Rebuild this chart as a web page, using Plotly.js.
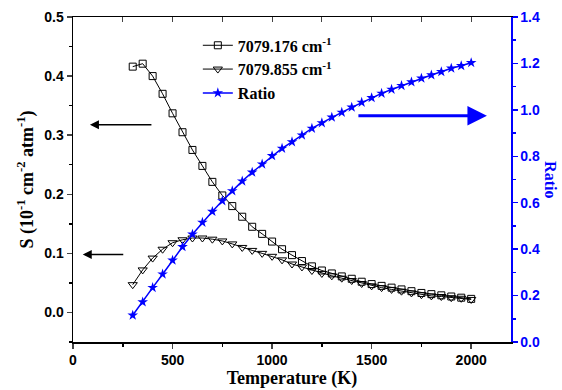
<!DOCTYPE html>
<html><head><meta charset="utf-8">
<script src="https://cdn.plot.ly/plotly-3.0.1.min.js"></script>
<style>html,body{margin:0;padding:0;background:#fff}#chart{width:562px;height:390px}</style>
</head><body><div id="chart"></div>
<script>
const temperature = [300,350,400,450,500,550,600,650,700,750,800,850,900,950,1000,1050,1100,1150,1200,1250,1300,1350,1400,1450,1500,1550,1600,1650,1700,1750,1800,1850,1900,1950,2000];
const s7079_176 = [0.416,0.421,0.400,0.370,0.337,0.305,0.275,0.248,0.221,0.198,0.180,0.162,0.145,0.133,0.120,0.107,0.097,0.087,0.078,0.071,0.066,0.061,0.057,0.052,0.048,0.045,0.042,0.039,0.036,0.033,0.031,0.029,0.027,0.025,0.023];
const s7079_855 = [0.047,0.072,0.092,0.107,0.118,0.123,0.126,0.126,0.124,0.121,0.116,0.110,0.105,0.100,0.095,0.089,0.082,0.077,0.071,0.066,0.062,0.058,0.054,0.049,0.045,0.042,0.039,0.036,0.033,0.030,0.028,0.027,0.025,0.024,0.022];
const ratio = [0.115,0.172,0.234,0.292,0.352,0.410,0.464,0.515,0.562,0.608,0.651,0.693,0.731,0.766,0.802,0.834,0.862,0.891,0.920,0.944,0.968,0.989,1.011,1.032,1.052,1.071,1.088,1.104,1.120,1.136,1.150,1.164,1.179,1.190,1.203];
const names = ['7079.176 cm<sup>-1</sup>','7079.855 cm<sup>-1</sup>','Ratio'];

const blue = '#0000ff';
const serif = 'Liberation Serif, Times New Roman, serif';
const sans = 'Liberation Sans, Arial, sans-serif';

const traces = [
  {x: temperature, y: s7079_176, name: names[0], mode:'lines+markers', type:'scatter',
   line:{color:'#000', width:1}, marker:{symbol:'square-open', size:7, color:'#000', line:{width:1}}},
  {x: temperature, y: s7079_855, name: names[1], mode:'lines+markers', type:'scatter',
   line:{color:'#000', width:1}, marker:{symbol:'triangle-down-open', size:8, color:'#000', line:{width:1}}},
  {x: temperature, y: ratio, name: names[2], mode:'lines+markers', type:'scatter', yaxis:'y2',
   line:{color:blue, width:1.5}, marker:{symbol:'star', size:8, color:blue}},
  {x:[temperature[0]], y:[null], xaxis:'x2', showlegend:false, hoverinfo:'skip'}
];

const layout = {
  width:562, height:390,
  margin:{l:73, r:51, t:17, b:48},
  paper_bgcolor:'#fff', plot_bgcolor:'#fff',
  showlegend:true,
  legend:{x:0.285, y:0.965, xanchor:'left', yanchor:'top', bgcolor:'rgba(0,0,0,0)',
    font:{family:serif, size:16, color:'#000', weight:'bold'}, tracegroupgap:0, itemwidth:30},
  xaxis:{range:[0,2200], tickvals:[0,500,1000,1500,2000], ticks:'outside', ticklen:5, tickwidth:1.5,
    minor:{dtick:250, ticks:'outside', ticklen:3, tickcolor:'#000'},
    showline:true, linecolor:'#000', linewidth:1.5, showgrid:false, zeroline:false,
    tickfont:{family:sans, size:14, color:'#000', weight:'bold'},
    title:{text:'Temperature (K)', font:{family:serif, size:18, color:'#000', weight:'bold'}, standoff:4}},
  xaxis2:{range:[0,2200], overlaying:'x', side:'top', dtick:250, tick0:0, ticks:'inside', ticklen:5,
    showticklabels:false, showline:true, linecolor:'#000', linewidth:1.5, showgrid:false, zeroline:false},
  yaxis:{range:[-0.05,0.5], dtick:0.1, tick0:0, ticks:'outside', ticklen:5, tickwidth:1.5, tickformat:'.1f',
    minor:{dtick:0.05, ticks:'outside', ticklen:3, tickcolor:'#000'},
    showline:true, linecolor:'#000', linewidth:1.5, showgrid:false, zeroline:false,
    tickfont:{family:sans, size:14, color:'#000', weight:'bold'},
    title:{text:'S (10<sup>-1</sup> cm<sup>-2</sup> atm<sup>-1</sup>)', font:{family:serif, size:18, color:'#000', weight:'bold'}, standoff:6}},
  yaxis2:{range:[0,1.4], dtick:0.2, tick0:0, overlaying:'y', side:'right', ticks:'outside', ticklen:5, tickwidth:1.5,
    tickformat:'.1f', tickcolor:blue, minor:{dtick:0.1, ticks:'outside', ticklen:3, tickcolor:blue},
    showline:true, linecolor:blue, linewidth:1.5, showgrid:false, zeroline:false,
    tickfont:{family:sans, size:14, color:blue, weight:'bold'}},
  annotations:[
    {xref:'paper', yref:'paper', x:1.09, y:0.5, xanchor:'center', yanchor:'middle', text:'Ratio', showarrow:false, textangle:90,
     font:{family:serif, size:16, color:blue, weight:'bold'}},
    {x:85, y:0.3175, xref:'x', yref:'y', text:'', showarrow:true, ax:63, ay:0,
     arrowhead:2, arrowsize:1.2, arrowwidth:1.5, arrowcolor:'#000'},
    {x:49, y:0.098, xref:'x', yref:'y', text:'', showarrow:true, ax:42, ay:0,
     arrowhead:2, arrowsize:1.2, arrowwidth:1.5, arrowcolor:'#000'},
    {x:2079, y:0.333, xref:'x', yref:'y', text:'', showarrow:true, ax:-130, ay:0,
     arrowhead:2, arrowsize:1.3, arrowwidth:3, arrowcolor:blue}
  ]
};
Plotly.newPlot('chart', traces, layout, {displayModeBar:false, staticPlot:true});
</script></body></html>
